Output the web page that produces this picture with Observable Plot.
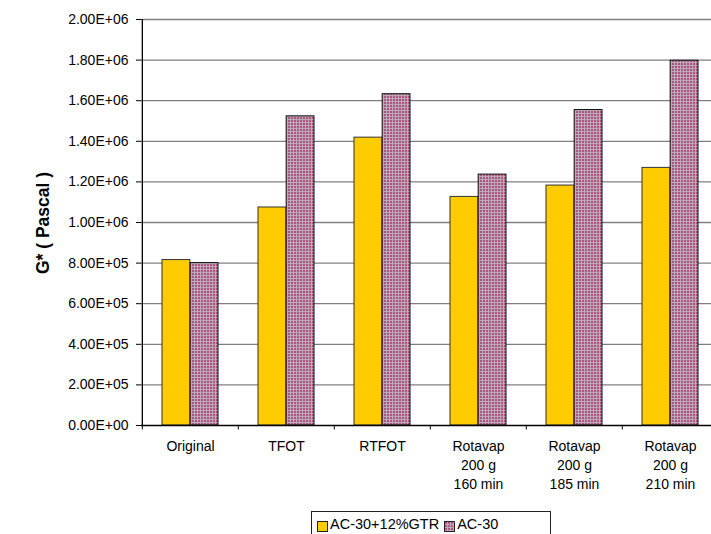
<!DOCTYPE html>
<html>
<head>
<meta charset="utf-8">
<script src="https://cdn.jsdelivr.net/npm/d3@7"></script>
<script src="https://cdn.jsdelivr.net/npm/@observablehq/plot@0.6"></script>
<style>
  html, body { margin: 0; padding: 0; background: #fff; overflow: hidden; }
  body { width: 711px; height: 534px; position: relative; font-family: "Liberation Sans", Arial, sans-serif; }
  #chart { position: absolute; left: 0; top: 0; width: 720px; }
  #chart svg { max-width: none !important; }
  #ylabel {
    position: absolute; left: 43px; top: 223px; transform: translate(-50%, -50%) rotate(-90deg);
    font-weight: bold; font-size: 17.5px; white-space: nowrap; color: #000;
  }
  #legend {
    position: absolute; left: 311px; top: 511px; width: 240px; height: 26px;
    border: 1px solid #222; box-sizing: border-box; background: #fff;
    display: flex; align-items: center; font-size: 14.5px; color: #000; white-space: nowrap;
  }
  #legend .sw { display: inline-block; width: 9px; height: 9px; border: 1px solid #222; margin: 4px 2px 0 5px; }
</style>
</head>
<body>
<svg width="0" height="0" style="position:absolute">
  <defs>
    <pattern id="check" width="3" height="3" patternUnits="userSpaceOnUse">
      <rect width="3" height="3" fill="#bbabb6"></rect>
      <rect width="2" height="2" fill="#ad5482"></rect>
    </pattern>
  </defs>
</svg>
<div id="chart"></div>
<div id="ylabel">G* ( Pascal )</div>
<div id="legend">
  <span class="sw" style="background:#ffcc00"></span><span>AC-30+12%GTR</span>
  <span class="sw"><svg width="9" height="9" style="display:block"><rect width="9" height="9" fill="url(#check)"></rect></svg></span><span>AC-30</span>
</div>
<script>
// Aging conditions along the x axis
const categories = [
  "Original",
  "TFOT",
  "RTFOT",
  "Rotavap\n200 g\n160 min",
  "Rotavap\n200 g\n185 min",
  "Rotavap\n200 g\n210 min"
];
// Complex shear modulus G* (Pa) for each binder
const seriesNames = ["AC-30+12%GTR", "AC-30"];
const gtrValues = [8.15e5, 1.074e6, 1.418e6, 1.126e6, 1.182e6, 1.269e6];
const ac30Values = [8.0e5, 1.523e6, 1.632e6, 1.236e6, 1.554e6, 1.797e6];
const yTicks = [0, 2e5, 4e5, 6e5, 8e5, 1e6, 1.2e6, 1.4e6, 1.6e6, 1.8e6, 2e6];

const rows = categories.flatMap((c, i) => [
  {category: c, series: seriesNames[0], value: gtrValues[i]},
  {category: c, series: seriesNames[1], value: ac30Values[i]}
]);

// Excel-style scientific notation, e.g. 1.80E+06
function sci(d) {
  const [m, e] = d.toExponential(2).split("e");
  const n = +e;
  return m + "E" + (n < 0 ? "-" : "+") + String(Math.abs(n)).padStart(2, "0");
}

const width = 720, marginLeft = 141, marginRight = 1;
const step = (width - marginLeft - marginRight) / categories.length;
const inner = 20, barW = (step - 2 * inner) / 2;

const chart = Plot.plot({
  width,
  height: 500,
  marginLeft,
  marginRight,
  marginTop: 19,
  marginBottom: 75,
  style: {fontFamily: "'Liberation Sans', Arial, sans-serif", fontSize: "12.5px", color: "#000", background: "transparent", maxWidth: "none"},
  x: {domain: categories, padding: 0, axis: null},
  y: {domain: [0, 2e6], axis: null},
  marks: [
    Plot.ruleY(yTicks.slice(1), {stroke: "#808080", strokeWidth: 1.3, strokeOpacity: 1}),
    Plot.barY(rows.filter(d => d.series === seriesNames[0]), {
      x: "category", y: "value",
      insetLeft: inner, insetRight: inner + barW,
      fill: "#ffcc00", stroke: "#333", strokeWidth: 1
    }),
    Plot.barY(rows.filter(d => d.series === seriesNames[1]), {
      x: "category", y: "value",
      insetLeft: inner + barW, insetRight: inner,
      fill: "url(#check)", stroke: "#111", strokeWidth: 1
    }),
    // y tick marks (labels drawn separately below)
    Plot.axisY({ticks: yTicks, tickSize: 5, tickFormat: () => "", label: null, stroke: "#000"}),
    Plot.text(yTicks, {
      y: d => d, text: sci, frameAnchor: "left", dx: -13, textAnchor: "end",
      fontSize: 14, fill: "#000"
    }),
    // left axis line at the first category edge
    Plot.ruleX(categories.slice(0, 1), {x: d => d, dx: -step / 2, stroke: "#000", strokeWidth: 1.3}),
    Plot.ruleY([0], {stroke: "#000", strokeWidth: 1.3}),
    // category boundary ticks below the baseline
    Plot.ruleX(categories, {x: d => d, y1: 0, y2: -2.2e4, dx: -step / 2, stroke: "#000"}),
    Plot.ruleX(categories.slice(-1), {x: d => d, y1: 0, y2: -2.2e4, dx: step / 2, stroke: "#000"}),
    Plot.text(categories, {
      x: d => d, y: 0, text: d => d, dy: 12, lineAnchor: "top",
      lineHeight: 1.35, fontSize: 14, fill: "#000"
    })
  ]
});
document.getElementById("chart").appendChild(chart);
</script>
</body>
</html>
